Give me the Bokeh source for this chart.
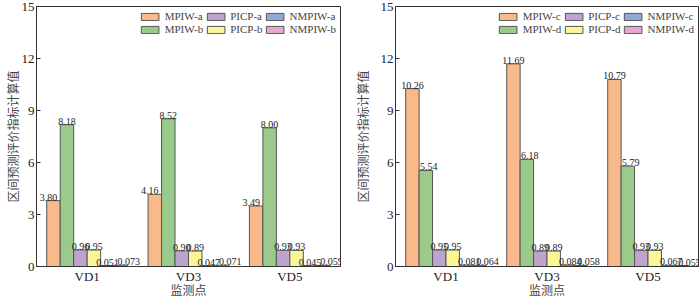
from bokeh.plotting import figure
from bokeh.layouts import row
from bokeh.models import ColumnDataSource, Legend, LegendItem, FixedTicker, Range1d, LabelSet
from bokeh.transform import dodge
from bokeh.embed import file_html
from bokeh.resources import INLINE

sites = ["VD1", "VD3", "VD5"]
yticks = [0, 3, 6, 9, 12, 15]

# left panel
mpiw_a = [3.80, 4.16, 3.49]
mpiw_b = [8.18, 8.52, 8.00]
picp_a = [0.96, 0.90, 0.93]
picp_b = [0.95, 0.89, 0.93]
nmpiw_a = [0.051, 0.047, 0.045]
nmpiw_b = [0.073, 0.071, 0.059]

# right panel
mpiw_c = [10.26, 11.69, 10.79]
mpiw_d = [5.54, 6.18, 5.79]
picp_c = [0.95, 0.89, 0.93]
picp_d = [0.95, 0.89, 0.93]
nmpiw_c = [0.081, 0.084, 0.067]
nmpiw_d = [0.064, 0.058, 0.055]

colors = ["#F8B98B", "#9ACB8C", "#BFA3CF", "#FAF596", "#8EAADB", "#E7A8D0"]
SERIF = "Liberation Serif"
CJK = "Noto Sans CJK SC"


def fmt(v):
    return f"{v:.3f}" if v < 0.1 else f"{v:.2f}"


def make_panel(series, names, label_shift, width, bl, br, ylab_standoff):
    p = figure(x_range=sites, y_range=Range1d(0, 15), width=width, height=300,
               output_backend="svg", toolbar_location=None,
               min_border_left=bl, min_border_right=br, min_border_top=6, min_border_bottom=0)
    p.x_range.range_padding = 0
    bw = 0.133
    offs = [-2.5 * bw, -1.5 * bw, -0.5 * bw, 0.5 * bw, 1.5 * bw, 2.5 * bw]
    renderers = []
    for vals, name, col, off, sh in zip(series, names, colors, offs, label_shift):
        src = ColumnDataSource(dict(x=sites, top=vals, lab=[fmt(v) for v in vals]))
        r = p.vbar(x=dodge("x", off, range=p.x_range), top="top", width=bw, source=src,
                   fill_color=col, line_color="#555555", line_width=1)
        renderers.append((name, r))
        lbl = LabelSet(x=dodge("x", off, range=p.x_range), y="top", text="lab", source=src,
                       text_align="center", text_baseline="bottom", x_offset=sh, y_offset=0,
                       text_font=SERIF, text_font_size="10px", text_color="#222222")
        p.add_layout(lbl)
    legend = Legend(items=[LegendItem(label=n, renderers=[r]) for n, r in renderers],
                    location="top_right", orientation="vertical", nrows=2,
                    label_text_font=SERIF, label_text_font_size="11px",
                    glyph_width=22, glyph_height=9, label_height=9, spacing=1,
                    label_standoff=4, padding=1, margin=3, border_line_alpha=0,
                    background_fill_alpha=0)
    p.add_layout(legend)
    p.yaxis.ticker = FixedTicker(ticks=yticks)
    p.yaxis.major_tick_in = 4
    p.yaxis.major_tick_out = 0
    p.yaxis.minor_tick_line_color = None
    p.xaxis.minor_tick_line_color = None
    for ax in (p.xaxis, p.yaxis):
        ax.axis_line_color = "#333333"
        ax.major_label_text_font = SERIF
        ax.major_label_text_font_size = "13px"
        ax.major_label_text_color = "#222222"
        ax.axis_label_text_font = CJK
        ax.axis_label_text_font_size = "12px"
        ax.axis_label_text_font_style = "normal"
        ax.axis_label_text_color = "#444444"
    p.yaxis.major_tick_line_color = "#333333"
    p.xaxis.major_tick_line_color = None
    p.yaxis.axis_label = "区间预测评价指标计算值"
    p.xaxis.axis_label = "监测点"
    p.yaxis.axis_label_standoff = ylab_standoff
    p.yaxis.major_label_standoff = 2
    p.xaxis.major_label_standoff = -4
    p.xaxis.axis_label_standoff = -6
    p.xgrid.grid_line_color = None
    p.ygrid.grid_line_color = None
    p.outline_line_color = "#333333"
    p.outline_line_width = 1
    return p


left = make_panel([mpiw_a, mpiw_b, picp_a, picp_b, nmpiw_a, nmpiw_b],
                  ["MPIW-a", "MPIW-b", "PICP-a", "PICP-b", "NMPIW-a", "NMPIW-b"],
                  [-5, 0, 0, 0, 0, 8], 350, 35, 10, -2)
right = make_panel([mpiw_c, mpiw_d, picp_c, picp_d, nmpiw_c, nmpiw_d],
                   ["MPIW-c", "MPIW-d", "PICP-c", "PICP-d", "NMPIW-c", "NMPIW-d"],
                   [0, 3, 0, 0, 3, 8], 350, 45, 2, 7)

lay = row(left, right, spacing=0)
open("out.html", "w").write(file_html(lay, INLINE))
